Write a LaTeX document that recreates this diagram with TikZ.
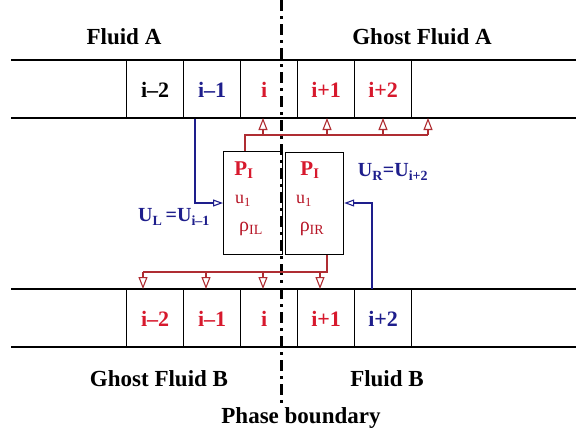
\documentclass[tikz,border=0pt]{standalone}
\usepackage{fontspec}
\setmainfont{Liberation Serif}
\usetikzlibrary{arrows.meta}
\definecolor{tred}{RGB}{215,25,45}
\definecolor{lred}{RGB}{175,45,50}
\definecolor{tblue}{RGB}{30,30,140}
\begin{document}
\begin{tikzpicture}[x=1pt,y=-1pt,
  cell/.style={draw, line width=1.2pt, minimum width=57pt, minimum height=58pt, inner sep=0pt,
    anchor=north west, font=\fontsize{22}{22}\selectfont\bfseries},
  strip/.style={line width=1.5pt},
  title/.style={font=\fontsize{23}{23}\selectfont\bfseries},
  ibox/.style={draw, line width=1.2pt, inner sep=0pt, anchor=north west},
  redline/.style={lred, line width=1.1pt},
  redarrow/.style={lred, line width=1.1pt, -{Triangle[open, length=12pt, width=9pt]}},
  bluearrow/.style={tblue, line width=1.1pt, -{Triangle[open, length=10pt, width=7pt]}},
  boundary/.style={line width=3pt, dash pattern=on 11pt off 5pt on 3pt off 5pt},
  ptext/.style={tred, font=\fontsize{21}{21}\selectfont\bfseries},
  utext/.style={tred!85!black, font=\fontsize{18}{18}\selectfont},
  rtext/.style={tred!85!black, font=\fontsize{20}{20}\selectfont},
  blabel/.style={tblue, font=\fontsize{20}{20}\selectfont\bfseries}]
\useasboundingbox (0,0) rectangle (576,437);
\fill[white] (0,0) rectangle (576,437);

% top strip
\draw[strip] (11,60) -- (576,60);
\draw[strip] (11,118) -- (576,118);
\node[cell] (t1) at (126,60) {i–2};
\node[cell, text=tblue] (t2) at (183,60) {i–1};
\node[cell, text=tred] (t3) at (240,60) {i\hspace*{10pt}};
\node[cell, text=tred] (t4) at (297,60) {i+1};
\node[cell, text=tred] (t5) at (354,60) {i+2};

% bottom strip
\draw[strip] (11,289) -- (576,289);
\draw[strip] (11,347) -- (576,347);
\node[cell, text=tred] (b1) at (126,289) {i–2};
\node[cell, text=tred] (b2) at (183,289) {i–1};
\node[cell, text=tred] (b3) at (240,289) {i\hspace*{10pt}};
\node[cell, text=tred] (b4) at (297,289) {i+1};
\node[cell, text=tblue] (b5) at (354,289) {i+2};

% titles
\node[title] (fa) at (124,37) {Fluid A};
\node[title] (gfa) at (422,37) {Ghost Fluid A};
\node[title] (gfb) at (159,379) {Ghost Fluid B};
\node[title] (fb) at (387,379) {Fluid B};
\node[title] (pb) at (301,418) {Phase boundary};

% interface boxes
\node[ibox, minimum width=59pt, minimum height=103pt] (L) at (223,151) {};
\node[ibox, minimum width=58pt, minimum height=102pt] (R) at (285,152) {};

% phase boundary
\draw[boundary] (281,0) -- (281,405);

\node[ptext] (pl) at (244,170) {P\textsubscript{I}};
\node[utext] (ul) at (243,201) {u\textsubscript{1}};
\node[rtext] (rl) at (251,229) {ρ\textsubscript{IL}};
\node[ptext] (pr) at (310,170) {P\textsubscript{I}};
\node[utext] (ur) at (304,201) {u\textsubscript{1}};
\node[rtext] (rr) at (312,229) {ρ\textsubscript{IR}};

% red connectors top
\coordinate (lt) at (245,135);
\coordinate (te) at (428,135);
\draw[redline] (L.north -| lt) -- (lt) -- (te);
\foreach \x in {263,327,383,428}
  \draw[redarrow] (\x,135) -- (\x,118);

% red connectors bottom
\coordinate (rb) at (327,272);
\coordinate (bs) at (143,272);
\draw[redline] (R.south -| rb) -- (rb) -- (bs);
\foreach \x in {143,206,263,320}
  \draw[redarrow] (\x,272) -- (\x,289);

% blue connectors
\coordinate (lb) at (195,203);
\draw[bluearrow] (t2.south -| lb) -- (lb) -- (L.west |- lb);
\coordinate (rbl) at (372,203);
\draw[bluearrow] (b5.north -| rbl) -- (rbl) -- (R.east |- rbl);

\node[blabel] (ulab) at (174,217) {U\textsubscript{L}\,=U\textsubscript{i–1}};
\node[blabel] (urlab) at (393,172) {U\textsubscript{R}=U\textsubscript{i+2}};
\end{tikzpicture}
\end{document}
